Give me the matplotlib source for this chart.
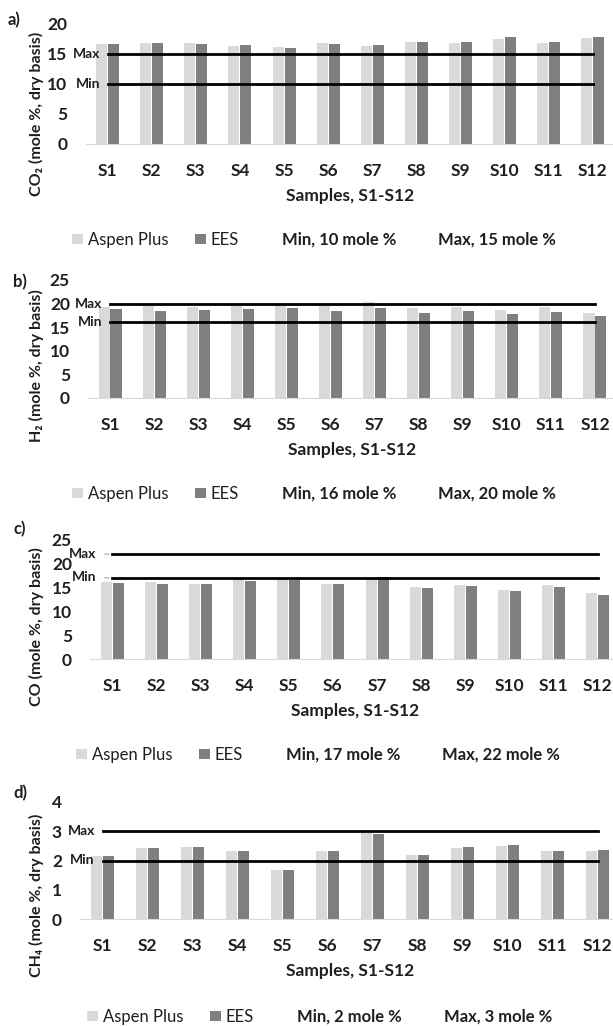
import numpy as np
import matplotlib
matplotlib.use('Agg')
import matplotlib.pyplot as plt
from matplotlib.patches import Patch
from matplotlib.lines import Line2D

samples = ['S1', 'S2', 'S3', 'S4', 'S5', 'S6', 'S7', 'S8', 'S9', 'S10', 'S11', 'S12']

# a) CO2
aspen_co2 = [16.7, 16.9, 16.9, 16.4, 16.2, 16.9, 16.3, 17.0, 16.9, 17.5, 16.9, 17.6]
ees_co2 = [16.7, 16.9, 16.6, 16.5, 16.0, 16.7, 16.5, 17.0, 17.0, 17.8, 17.0, 17.9]
co2_min, co2_max = 10, 15

# b) H2
aspen_h2 = [19.3, 19.8, 19.3, 20.0, 20.1, 19.8, 20.3, 19.1, 19.3, 18.7, 19.3, 18.1]
ees_h2 = [18.8, 18.5, 18.6, 18.8, 19.1, 18.5, 19.0, 18.1, 18.5, 17.8, 18.3, 17.3]
h2_min, h2_max = 16, 20

# c) CO
aspen_co = [16.1, 16.1, 15.7, 16.9, 16.9, 15.8, 17.1, 15.2, 15.6, 14.6, 15.6, 13.9]
ees_co = [15.9, 15.7, 15.7, 16.4, 16.5, 15.8, 17.3, 15.0, 15.4, 14.2, 15.2, 13.5]
co_min, co_max = 17, 22

# d) CH4
aspen_ch4 = [2.15, 2.42, 2.47, 2.33, 1.68, 2.33, 2.93, 2.18, 2.44, 2.50, 2.32, 2.34]
ees_ch4 = [2.16, 2.43, 2.47, 2.33, 1.68, 2.33, 2.91, 2.18, 2.46, 2.53, 2.31, 2.36]
ch4_min, ch4_max = 2, 3

plt.rcParams['font.family'] = ['Lato', 'DejaVu Sans']

W, H = 613, 1026
fig = plt.figure(figsize=(W / 100, H / 100), dpi=100, facecolor='white')

LIGHT = '#d9d9d9'
DARK = '#7f7f7f'
TXT = '#1f1f1f'


def px_axes(left, top, right, bottom):
    return fig.add_axes([left / W, 1 - bottom / H, (right - left) / W, (bottom - top) / H])


panels = [
    dict(letter='a)', ylabel='CO₂ (mole %, dry basis)', aspen=aspen_co2, ees=ees_co2,
         lo=co2_min, hi=co2_max, ymax=20, step=5, box=(85.5, 24, 615, 144),
         letter_xy=(8, 20), ylab_y=114, leg_y=240, leg_x=72, leader=False),
    dict(letter='b)', ylabel='H₂ (mole %, dry basis)', aspen=aspen_h2, ees=ees_h2,
         lo=h2_min, hi=h2_max, ymax=25, step=5, box=(88, 280, 617, 398),
         letter_xy=(13, 282), ylab_y=366, leg_y=494, leg_x=72, leader=False),
    dict(letter='c)', ylabel='CO (mole %, dry basis)', aspen=aspen_co, ees=ees_co,
         lo=co_min, hi=co_max, ymax=25, step=5, box=(90, 540, 620, 659),
         letter_xy=(13, 529), ylab_y=627, leg_y=755, leg_x=76, leader=True),
    dict(letter='d)', ylabel='CH₄ (mole %, dry basis)', aspen=aspen_ch4, ees=ees_ch4,
         lo=ch4_min, hi=ch4_max, ymax=4, step=1, box=(80, 802, 620, 919),
         letter_xy=(13, 793), ylab_y=895, leg_y=1017, leg_x=87, leader=False),
]

x = np.arange(len(samples))
bw = 0.25
off = 0.135

for p in panels:
    ax = px_axes(*p['box'])
    ax.bar(x - off, p['aspen'], bw, color=LIGHT, zorder=2)
    ax.bar(x + off, p['ees'], bw, color=DARK, zorder=2)

    # min / max reference lines from first to last sample
    ax.plot(x[[0, -1]], [p['hi'], p['hi']], color='black', lw=2, zorder=3)
    ax.plot(x[[0, -1]], [p['lo'], p['lo']], color='black', lw=2, zorder=3)

    for lab, val in (('Max', p['hi']), ('Min', p['lo'])):
        if p['leader']:
            ax.annotate(lab, xy=(0, val), xytext=(-11.5, 0.5), textcoords='offset points',
                        ha='right', va='center', fontsize=10, fontweight='bold', color=TXT,
                        arrowprops=dict(arrowstyle='-', color='#a6a6a6', lw=0.8,
                                        shrinkA=4, shrinkB=2.2))
        else:
            ax.annotate(lab, xy=(0, val), xytext=(-5.5, 0), textcoords='offset points',
                        ha='right', va='center', fontsize=10, fontweight='bold', color=TXT)

    ax.set_xlim(-0.5, len(samples) - 0.5)
    ax.set_ylim(0, p['ymax'])
    ax.set_yticks(np.arange(0, p['ymax'] + 0.1, p['step']))
    ax.set_xticks(x)
    ax.set_xticklabels(samples)
    ax.tick_params(axis='both', length=0, labelsize=12.5, colors=TXT)
    ax.tick_params(axis='y', pad=13)
    ax.tick_params(axis='x', pad=13.5)
    for t in ax.get_xticklabels() + ax.get_yticklabels():
        t.set_fontweight('bold')
    for s in ('top', 'right', 'left'):
        ax.spines[s].set_visible(False)
    ax.spines['bottom'].set_color(LIGHT)
    ax.spines['bottom'].set_linewidth(0.8)
    ax.set_xlabel('Samples, S1-S12', fontsize=12.5, fontweight='bold', color=TXT, labelpad=7)

    fig.text(p['letter_xy'][0] / W, 1 - p['letter_xy'][1] / H, p['letter'],
             ha='left', va='center', fontsize=12, fontweight='bold', color=TXT)
    fig.text(36 / W, 1 - p['ylab_y'] / H, p['ylabel'], rotation=90,
             ha='center', va='center', fontsize=11.5, fontweight='bold', color=TXT)

    handles = [Patch(facecolor=LIGHT, edgecolor='none'),
               Patch(facecolor=DARK, edgecolor='none'),
               Line2D([], [], color='none'),
               Line2D([], [], color='none')]
    labels = ['Aspen Plus', 'EES',
              'Min, %s mole %%' % p['lo'], 'Max, %s mole %%' % p['hi']]
    leg = fig.legend(handles, labels, ncol=4, frameon=False, loc='center left',
                     bbox_to_anchor=(p['leg_x'] / W, 1 - p['leg_y'] / H),
                     borderpad=0, borderaxespad=0, fontsize=12,
                     handlelength=0.65, handleheight=0.6, handletextpad=0.3,
                     columnspacing=1.6)
    for i, t in enumerate(leg.get_texts()):
        t.set_color(TXT)
        if i >= 2:
            t.set_fontweight('bold')

fig.savefig('out.png', dpi=100)
